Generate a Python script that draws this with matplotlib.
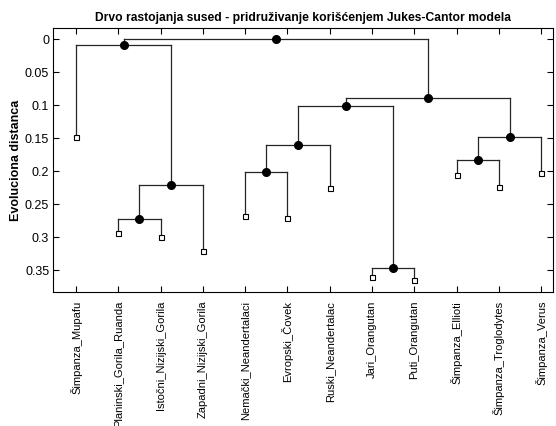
import numpy as np
import matplotlib
matplotlib.use("Agg")
import matplotlib.pyplot as plt

plt.rcParams['font.family'] = ['Liberation Sans', 'DejaVu Sans']

# leaves (left to right) and their distance from root
leaves = [
    "Šimpanza_Mupafu", "Planinski_Gorila_Ruanda", "Istočni_Nizijski_Gorila",
    "Zapadni_Nizijski_Gorila", "Nemački_Neandertalaci", "Evropski_Čovek",
    "Ruski_Neandertalac", "Jari_Orangutan", "Puti_Orangutan",
    "Šimpanza_Ellioti", "Šimpanza_Troglodytes", "Šimpanza_Verus",
]
leaf_dist = [0.148, 0.293, 0.300, 0.321, 0.268, 0.271,
             0.225, 0.361, 0.365, 0.206, 0.224, 0.2035]

# internal nodes: children ids (leaves are 0..11, new nodes from 12 on)
node_children = [(1, 2), (12, 3), (0, 13), (4, 5), (15, 6), (7, 8),
                 (16, 17), (9, 10), (19, 11), (18, 20), (14, 21)]
node_dist = [0.273, 0.221, 0.009, 0.201, 0.161, 0.347,
             0.101, 0.183, 0.149, 0.090, 0.0]

yticks = [0, 0.05, 0.1, 0.15, 0.2, 0.25, 0.3, 0.35]
ytick_labels = ["0", "0.05", "0.1", "0.15", "0.2", "0.25", "0.3", "0.35"]

fig = plt.figure(figsize=(5.56, 4.26), dpi=100)
ax = fig.add_axes([0.0959, 0.3134, 0.8996, 0.6209])

# positions of every node
xs = list(np.arange(1, len(leaves) + 1, dtype=float))
ys = list(leaf_dist)
for (a, b), d in zip(node_children, node_dist):
    xs.append((xs[a] + xs[b]) / 2)
    ys.append(d)

lc = "#252525"
for i, (a, b) in enumerate(node_children):
    n = len(leaves) + i
    ax.plot([xs[a], xs[b]], [ys[n], ys[n]], color=lc, lw=0.9, zorder=1)
    for c in (a, b):
        ax.plot([xs[c], xs[c]], [ys[n], ys[c]], color=lc, lw=0.9, zorder=1)

nl = len(leaves)
ax.plot(xs[nl:], ys[nl:], "o", color="black", ms=5.5, zorder=3)
ax.plot(xs[:nl], ys[:nl], "s", mfc="white", mec="black", mew=0.8, ms=3.6, zorder=3)

ax.set_xlim(0.463, 12.29)
ax.set_ylim(0.3838, -0.0167)
ax.set_xticks(xs[:nl])
ax.set_xticklabels(leaves, rotation=90, fontsize=8)
ax.set_yticks(yticks)
ax.set_yticklabels(ytick_labels, fontsize=9)
ax.tick_params(direction="in", length=4, width=0.8, top=True, right=True)
ax.tick_params(axis="x", pad=6)
ax.tick_params(axis="y", pad=3)
for s in ax.spines.values():
    s.set_linewidth(0.8)

ax.set_ylabel("Evoluciona distanca", fontsize=9, fontweight="bold", labelpad=2)
ax.set_title("Drvo rastojanja sused - pridruživanje korišćenjem Jukes-Cantor modela",
             fontsize=8.7, fontweight="bold", pad=5)

fig.savefig("out.png", dpi=100)
